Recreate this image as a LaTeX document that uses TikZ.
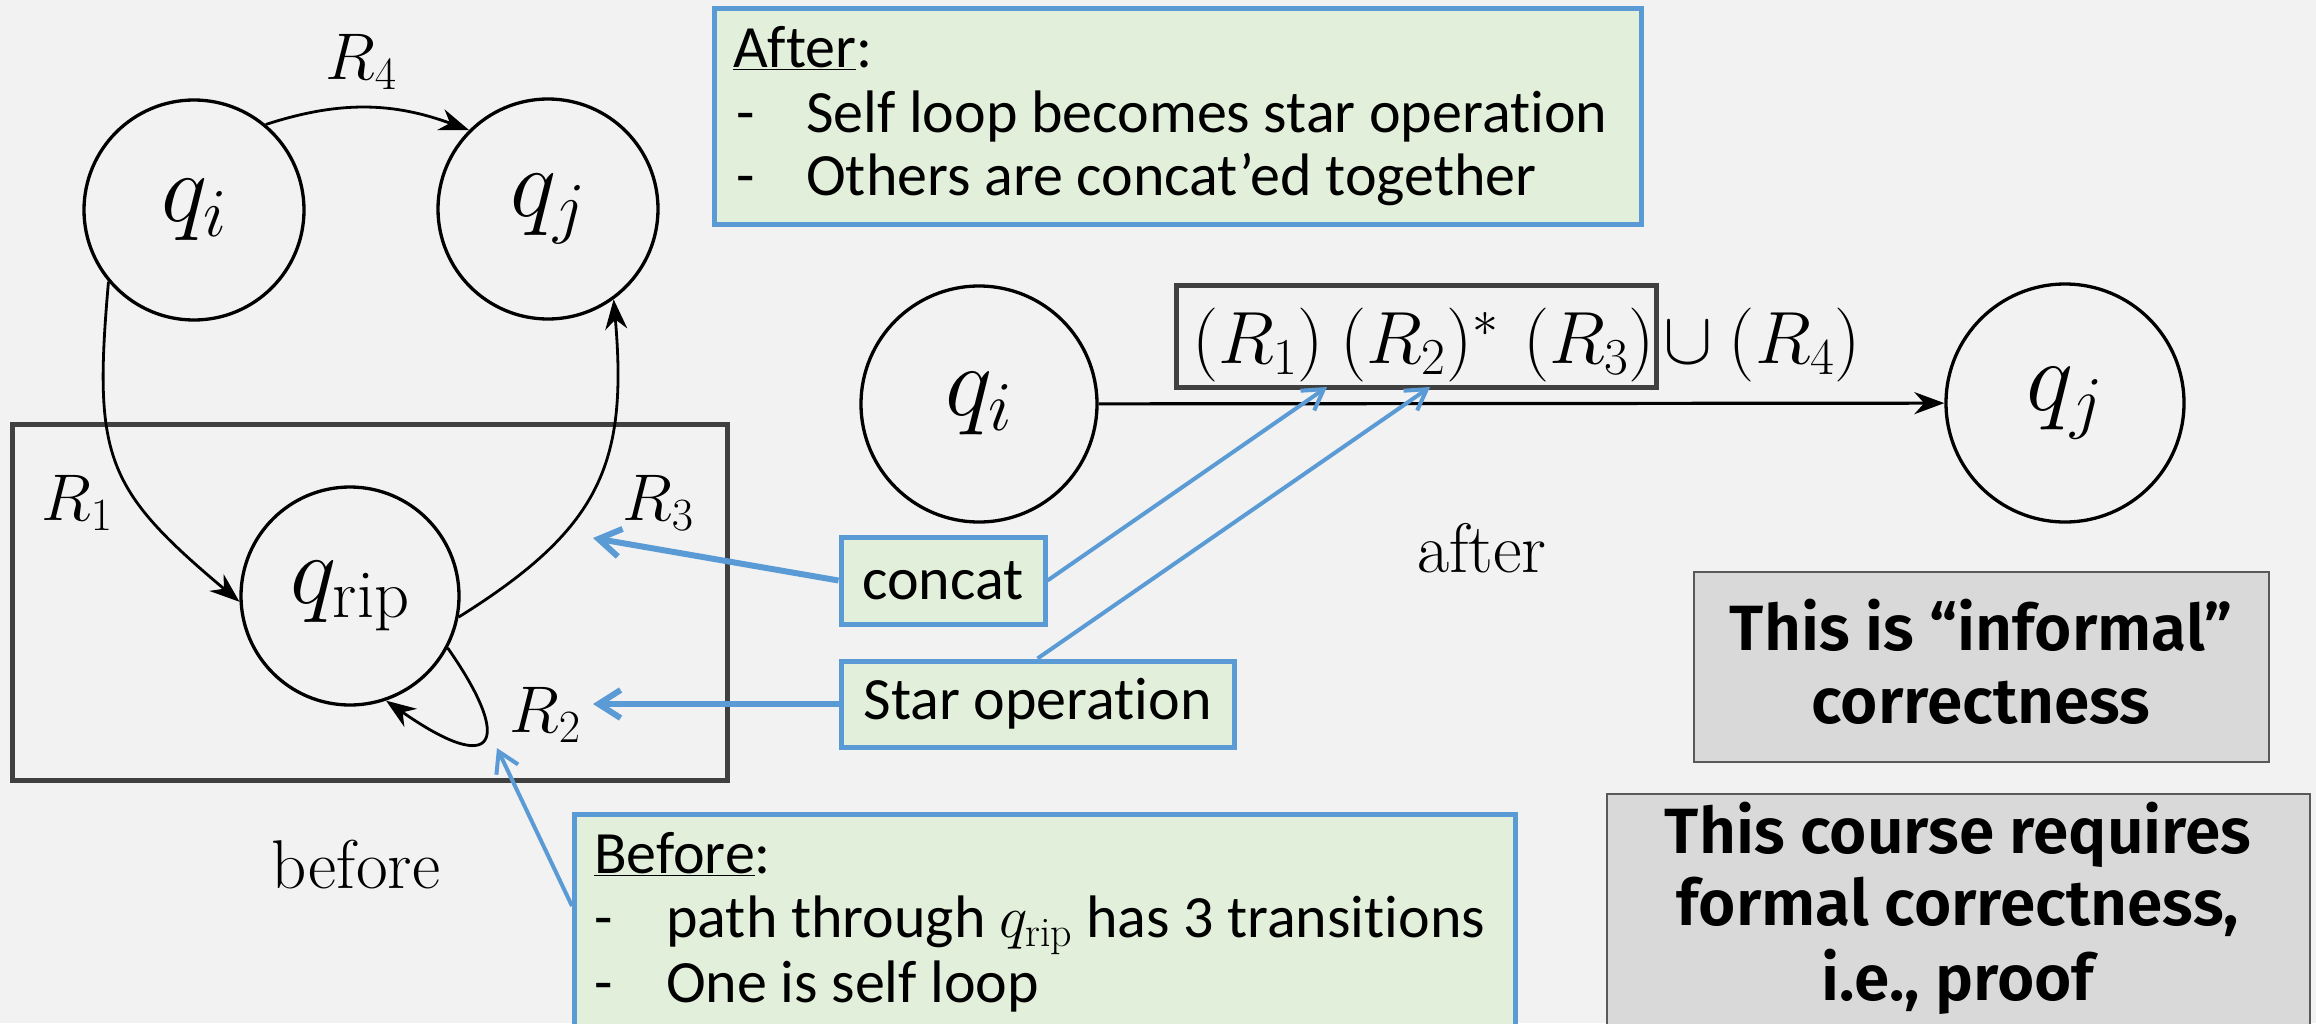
\RequirePackage{fix-cm}
\documentclass[tikz,border=0pt]{standalone}
\usepackage{fontspec}
\usetikzlibrary{arrows.meta}
\newfontfamily\calib{Carlito}[Ligatures=NoCommon]
\newfontfamily\fira{Fira Sans}[BoldFont={Fira Sans SemiBold}]
\definecolor{bgc}{HTML}{F2F2F2}
\definecolor{bluec}{HTML}{5B9BD5}
\definecolor{greenc}{HTML}{E2EFDA}
\definecolor{grayfill}{HTML}{D9D9D9}
\definecolor{grayline}{HTML}{595959}
\definecolor{framec}{HTML}{404040}
\tikzset{
  stnode/.style={circle, draw=black, line width=3.3pt, minimum size=220pt, inner sep=0pt, font=\fontsize{98}{100}\selectfont},
  arr/.style={line width=2.8pt, -{Stealth[length=30pt,width=22pt]}},
  lbl/.style={inner sep=0pt, font=\fontsize{66}{70}\selectfont},
  greenbox/.style={draw=bluec, fill=greenc, line width=5pt, inner sep=0pt},
  boxtxt/.style={anchor=base west, inner sep=0pt, font=\calib\fontsize{60}{65}\selectfont},
  graybox/.style={draw=grayline, fill=grayfill, line width=2.2pt, inner sep=0pt},
  graytxt/.style={anchor=base, inner sep=0pt, font=\fira\bfseries\fontsize{64}{73}\selectfont},
  bluearr/.style={draw=bluec, line width=6pt, -{Straight Barb[length=22pt,width=28pt]}},
  thinarr/.style={draw=bluec, line width=4pt, -{Straight Barb[length=20pt,width=24pt]}},
}
\begin{document}
\begin{tikzpicture}[x=1pt,y=1pt]
\useasboundingbox (0,0) rectangle (2316,-1023);
\fill[bgc] (0,0) rectangle (2316,-1023);
% ---------- before diagram ----------
\node[draw=framec, line width=5pt, minimum width=715pt, minimum height=356pt, inner sep=0pt] (frame) at (369.5,-602) {};
\node[stnode] (qi) at (194,-210) {$q_i$};
\node[stnode] (qj) at (548,-209) {$q_j$};
\node[stnode, minimum size=218pt] (qrip) at (350,-596) {$q_{\mathrm{rip}}$};
\draw[arr] (qi.50) to[out=18,in=160] (qj.135);
\draw[arr] (qi.220) to[out=-95,in=140,looseness=1.3] (qrip.183);
\draw[arr] (qrip.-11) to[out=32,in=-85,looseness=1.2] (qj.-54);
\draw[arr] (qrip.-28) .. controls +(-55:115) and +(-35:135) .. (qrip.-71);
\node[lbl] (r4) at (361,-62) {$R_4$};
\node[lbl] (r1) at (77,-503) {$R_1$};
\node[lbl] (r3) at (658,-503) {$R_3$};
\node[lbl] (r2) at (545,-715) {$R_2$};
\node[inner sep=0pt, font=\fontsize{69}{72}\selectfont] (before) at (356,-865) {before};
% ---------- after diagram ----------
\node[stnode, minimum size=236pt, font=\fontsize{100}{104}\selectfont] (qi2) at (979,-404) {$q_i$};
\node[stnode, minimum size=238pt, font=\fontsize{100}{104}\selectfont] (qj2) at (2065,-403) {$q_j$};
\draw[arr, line width=3.2pt] (qi2) -- (qj2);
\node[draw=framec, line width=5pt, minimum width=480pt, minimum height=102pt, inner sep=0pt] (fbox) at (1416,-336) {};
\node[anchor=base west, inner sep=0pt, font=\fontsize{74}{78}\selectfont] (fpart) at (1192,-363) {$(R_1)\mskip4mu(R_2)^*\mskip6mu(R_3)$};
\node[anchor=base west, inner sep=0pt, font=\fontsize{74}{78}\selectfont] (funion) at (1663,-363) {$\cup\mskip4mu(R_4)$};
\node[inner sep=0pt, font=\fontsize{70}{74}\selectfont] (after) at (1482,-548) {after};
% ---------- green boxes ----------
\node[greenbox, minimum width=927pt, minimum height=216pt, anchor=north west] (afterbox) at (712,-6) {};
\node[boxtxt] (a1) at (733,-67) {\underline{After}:};
\node[boxtxt] (a2) at (736,-132) {-};
\node[boxtxt] (a3) at (806,-132) {Self loop becomes star operation};
\node[boxtxt] (a4) at (736,-195) {-};
\node[boxtxt] (a5) at (806,-195) {Others are concat’ed together};
\node[greenbox, minimum width=941pt, minimum height=260pt, anchor=north west] (beforebox) at (572,-812) {};
\node[boxtxt] (b1) at (594,-873) {\underline{Before}:};
\node[boxtxt] (b2) at (594,-937) {-};
\node[boxtxt] (b3) at (666,-937) {path through $q_{\mathrm{rip}}$ has 3 transitions};
\node[boxtxt] (b4) at (594,-1002) {-};
\node[boxtxt] (b5) at (666,-1002) {One is self loop};
\node[greenbox, minimum width=204pt, minimum height=87pt, font=\calib\fontsize{60}{65}\selectfont] (concat) at (943,-580.5) {concat};
\node[greenbox, minimum width=393pt, minimum height=86pt, font=\calib\fontsize{60}{65}\selectfont] (star) at (1037.5,-704) {Star operation};
% ---------- gray boxes ----------
\node[graybox, minimum width=575pt, minimum height=190pt] (informal) at (1981.5,-667) {};
\node[graytxt] (i1) at (1981,-650) {This is “informal”};
\node[graytxt] (i2) at (1981,-723) {correctness};
\node[graybox, minimum width=703pt, minimum height=260pt, anchor=north west] (course) at (1606,-793) {};
\node[graytxt] (c1) at (1958,-853) {This course requires};
\node[graytxt] (c2) at (1958,-925) {formal correctness,};
\node[graytxt] (c3) at (1958,-1000) {i.e., proof};
% ---------- blue callout arrows ----------
\coordinate (r3tip) at (593,-538);
\coordinate (r2tip) at (593,-704);
\coordinate (looptip) at (497,-748);
\coordinate (bstart) at (572,-906);
\coordinate (f1tip) at (1327,-387);
\coordinate (f2tip) at (1430,-387);
\draw[bluearr] (concat.west) -- (r3tip);
\draw[bluearr] (star.west) -- (r2tip);
\draw[thinarr] (concat.east) -- (f1tip);
\draw[thinarr] (star.north) -- (f2tip);
\draw[thinarr] (bstart) -- (looptip);
\end{tikzpicture}
\end{document}
